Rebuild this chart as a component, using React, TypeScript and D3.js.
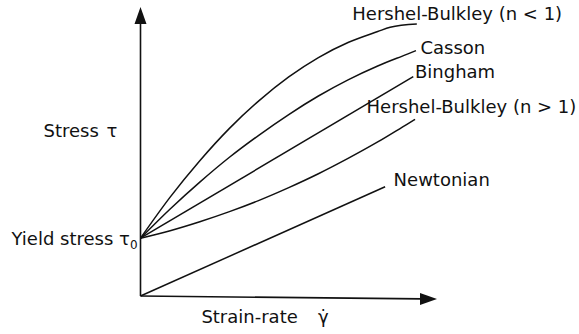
import React from "react";
import * as d3 from "d3";

// Flow curves: shear stress vs. strain rate (arbitrary units)
const yieldStress = 2.0;
const hbShearThinning: [number, number][] = [
  [0, 2.0], [1, 3.42], [2, 4.68], [3, 5.8], [4, 6.76], [5, 7.58],
  [6, 8.25], [7, 8.77], [8, 9.15], [8.42, 9.3], [9.32, 9.41],
];
const casson: [number, number][] = [
  [0, 2.0], [1, 3.01], [2, 3.94], [3, 4.8], [4, 5.57], [5, 6.28],
  [6, 6.92], [7, 7.48], [8, 7.96], [9, 8.37], [9.29, 8.49],
];
const bingham: [number, number][] = [[0, 2.0], [9.2, 7.59]];
const hbShearThickening: [number, number][] = [
  [0, 2.0], [1, 2.26], [2, 2.57], [3, 2.92], [4, 3.31], [5, 3.75],
  [6, 4.23], [7, 4.76], [8, 5.33], [9, 5.95], [9.26, 6.11],
];
const newtonian: [number, number][] = [[0, 0], [8.25, 3.78]];

const seriesNames = [
  "Hershel-Bulkley (n < 1)",
  "Casson",
  "Bingham",
  "Hershel-Bulkley (n > 1)",
  "Newtonian",
];
const seriesData = [hbShearThinning, casson, bingham, hbShearThickening, newtonian];

// label placement relative to each curve's end point (px)
const labelOffsets: [number, number][] = [
  [-64.5, -4],
  [4.5, 3.5],
  [1.7, 1.8],
  [-48.5, -6],
  [8.5, -0.5],
];

const W = 579;
const H = 334;
const INK = "#111";
const FONT = "'DejaVu Sans', Verdana, sans-serif";

export default function App() {
  const x = d3.scaleLinear().domain([0, 10]).range([140.5, 437]);
  const y = d3.scaleLinear().domain([0, 10]).range([296, 7]);

  const line = d3
    .line<[number, number]>()
    .x((d) => x(d[0]))
    .y((d) => y(d[1]))
    .curve(d3.curveMonotoneX);

  const x0 = x(0);
  const y0 = y(0);
  const yTop = y(10);
  const xEnd = x(10);
  const xAxisEndY = y(-0.1);

  return (
    <svg
      width={W}
      height={H}
      viewBox={`0 0 ${W} ${H}`}
      style={{ position: "absolute", left: 0, top: 0, background: "#fff" }}
      fontFamily={FONT}
    >
      <rect width={W} height={H} fill="#fff" />

      {/* axes */}
      <line x1={x0} y1={y0} x2={x0} y2={yTop + 16} stroke={INK} strokeWidth={1.6} />
      <path
        d={`M${x0},${yTop} L${x0 - 6},${yTop + 17} L${x0 + 6},${yTop + 17} Z`}
        fill={INK}
      />
      <line x1={x0} y1={y0} x2={xEnd - 16} y2={xAxisEndY} stroke={INK} strokeWidth={1.6} />
      <path
        d={`M${xEnd},${xAxisEndY} L${xEnd - 17},${xAxisEndY - 6} L${xEnd - 17},${xAxisEndY + 6} Z`}
        fill={INK}
      />

      {/* curves */}
      {seriesData.map((pts, i) => (
        <path
          key={seriesNames[i]}
          d={line(pts) ?? ""}
          fill="none"
          stroke={INK}
          strokeWidth={1.5}
        />
      ))}

      {/* curve labels */}
      {seriesData.map((pts, i) => {
        const end = pts[pts.length - 1];
        return (
          <text
            key={"lbl" + i}
            x={x(end[0]) + labelOffsets[i][0]}
            y={y(end[1]) + labelOffsets[i][1]}
            fontSize={18}
            fill={INK}
          >
            {seriesNames[i]}
          </text>
        );
      })}

      {/* axis titles */}
      <text x={43.5} y={137.3} fontSize={18} fill={INK}>
        Stress <tspan dx={2}>τ</tspan>
      </text>
      <text x={11.5} y={y(yieldStress) + 7} fontSize={18} fill={INK}>
        Yield stress τ
        <tspan fontSize={12} dy={4}>0</tspan>
      </text>
      <text x={201.4} y={322.5} fontSize={18} fill={INK}>
        Strain-rate
        <tspan x={318}>γ̇</tspan>
      </text>
    </svg>
  );
}
